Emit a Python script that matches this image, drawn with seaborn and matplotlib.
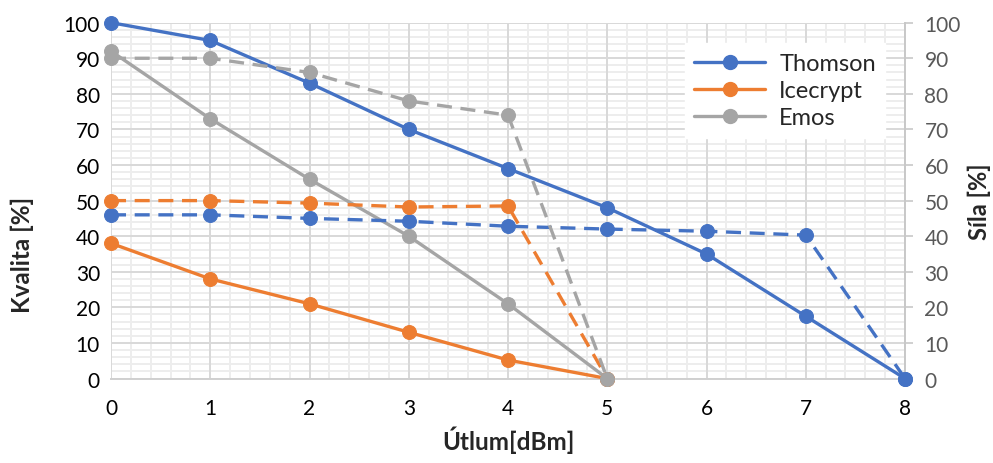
import numpy as np
import pandas as pd
import matplotlib
matplotlib.use("Agg")
import matplotlib.pyplot as plt
from matplotlib.lines import Line2D
from matplotlib.ticker import MultipleLocator
import seaborn as sns

# attenuation steps [dBm]
utlum = [0, 1, 2, 3, 4, 5, 6, 7, 8]

# quality (left axis, solid)
thomson_kvalita = [100, 95, 83, 70, 59, 48, 35, 17.5, 0]
icecrypt_kvalita = [38, 28, 21, 13, 5.2, 0]
emos_kvalita = [92, 73, 56, 40, 21, 0]

# signal strength (right axis, dashed)
thomson_sila = [46, 46, 45, 44.2, 42.8, 42, 41.4, 40.3, 0]
icecrypt_sila = [50, 50, 49.3, 48.2, 48.5, 0]
emos_sila = [90, 90, 86, 78, 74, 0]

names = ["Thomson", "Icecrypt", "Emos"]
colors = ["#4472C4", "#ED7D31", "#A5A5A5"]

sns.set_style("white")
plt.rcParams["font.family"] = ["Lato", "DejaVu Sans"]

pos = [0.1118, 0.182, 0.7996, 0.767]
fig = plt.figure(figsize=(9.93, 4.64), dpi=100)

# background axes only for the fine grid, so the major grid stays on top
ax_bg = fig.add_axes(pos, zorder=0)
ax_bg.set_xlim(0, 8)
ax_bg.set_ylim(0, 100)
ax_bg.xaxis.set_minor_locator(MultipleLocator(0.2))
ax_bg.yaxis.set_minor_locator(MultipleLocator(2))
ax_bg.grid(which="minor", color="#EDEDED", lw=1.4)
ax_bg.set_xticks([])
ax_bg.set_yticks([])
for s in ax_bg.spines.values():
    s.set_visible(False)

ax = fig.add_axes(pos, zorder=1)
ax.patch.set_visible(False)
ax2 = ax.twinx()

kvalita = [thomson_kvalita, icecrypt_kvalita, emos_kvalita]
sila = [thomson_sila, icecrypt_sila, emos_sila]

for name, col, kv, si in zip(names, colors, kvalita, sila):
    df = pd.DataFrame({"x": utlum[:len(kv)], "y": kv})
    sns.lineplot(data=df, x="x", y="y", ax=ax, color=col, lw=2.4,
                 marker="o", markersize=10, markeredgecolor=col,
                 clip_on=False, zorder=3)
    df2 = pd.DataFrame({"x": utlum[:len(si)], "y": si})
    sns.lineplot(data=df2, x="x", y="y", ax=ax2, color=col, lw=2.4,
                 linestyle=(0, (4.5, 2.6)), marker="o", markersize=10,
                 markeredgecolor=col, clip_on=False, zorder=3)

for a in (ax, ax2):
    a.set_xlim(0, 8)
    a.set_ylim(0, 100)
    a.yaxis.set_major_locator(MultipleLocator(10))

ax.xaxis.set_major_locator(MultipleLocator(1))
ax.grid(which="major", color="#D9D9D9", lw=1.4, zorder=0)
ax.set_axisbelow(True)

for a in (ax, ax2):
    for s in a.spines.values():
        s.set_visible(False)
ax.spines["bottom"].set_visible(True)
ax.spines["bottom"].set_color("#D0D0D0")
ax.spines["bottom"].set_linewidth(1.4)
ax2.spines["right"].set_visible(True)
ax2.spines["right"].set_color("#C8C8C8")
ax2.spines["right"].set_linewidth(1.4)

ax.tick_params(axis="both", which="both", length=0, labelsize=15,
               labelcolor="#000000")
ax.tick_params(axis="x", pad=14)
ax.tick_params(axis="y", pad=8)
ax2.tick_params(axis="y", which="major", length=6, width=1.2,
                color="#C8C8C8", labelsize=15, labelcolor="#595959", pad=8)
ax2.tick_params(axis="y", which="minor", length=0)

ax.set_xlabel("Útlum[dBm]", fontsize=17.5, fontweight="bold")
ax.set_ylabel("Kvalita [%]", fontsize=17.5, fontweight="bold")
ax2.set_ylabel("Síla [%]", fontsize=17, fontweight="bold")
ax.xaxis.set_label_coords(0.5, -0.133)
ax.yaxis.set_label_coords(-0.097, 0.35)
ax2.yaxis.set_label_coords(1.079, 0.50)

handles = [Line2D([], [], color=c, lw=2.4, marker="o", markersize=10)
           for c in colors]
leg = ax2.legend(handles, names, loc="upper right",
                 bbox_to_anchor=(0.99, 0.975), fontsize=17,
                 frameon=True, fancybox=False, framealpha=1,
                 edgecolor="white", handlelength=3.0, labelspacing=0.26,
                 borderpad=0.4, handletextpad=0.6)

fig.savefig("out.png", dpi=100)
